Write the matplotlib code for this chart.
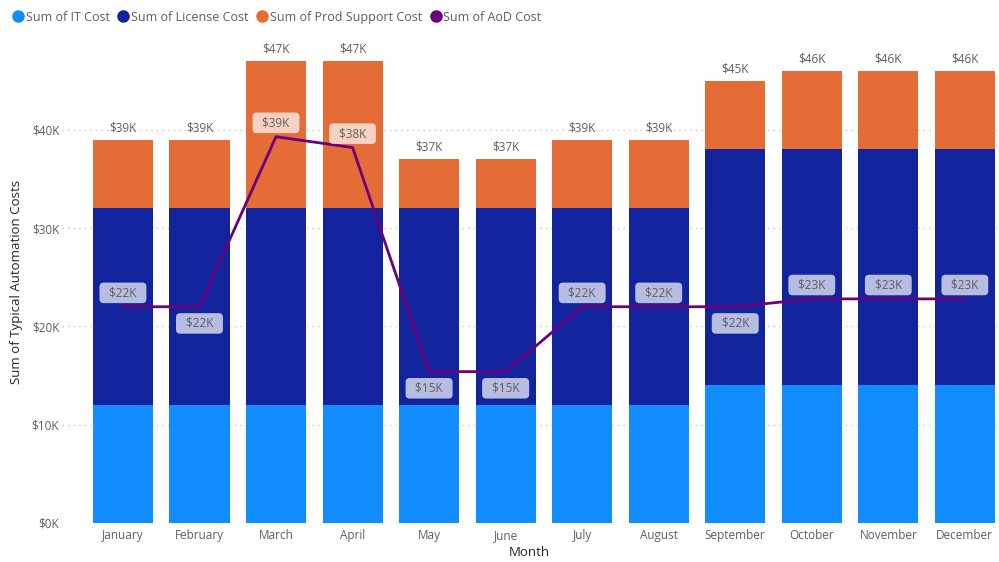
import matplotlib
matplotlib.use("Agg")
import matplotlib.pyplot as plt
from matplotlib.lines import Line2D
import numpy as np

months = ["January", "February", "March", "April", "May", "June", "July",
          "August", "September", "October", "November", "December"]
it_cost = [12, 12, 12, 12, 12, 12, 12, 12, 14, 14, 14, 14]
license_cost = [20, 20, 20, 20, 20, 20, 20, 20, 24, 24, 24, 24]
prod_support = [7, 7, 15, 15, 5, 5, 7, 7, 7, 8, 8, 8]
aod_cost = [22, 22, 39.3, 38.2, 15.4, 15.4, 22, 22, 22, 22.8, 22.8, 22.8]
aod_labels = ["$22K", "$22K", "$39K", "$38K", "$15K", "$15K", "$22K", "$22K",
              "$22K", "$23K", "$23K", "$23K"]
label_side = [1, -1, 1, 1, -1, -1, 1, 1, -1, 1, 1, 1]

C_IT = "#118DFF"
C_LIC = "#12239E"
C_PS = "#E66C37"
C_AOD = "#6B007B"
GREY = "#605E5C"

plt.rcParams['font.family'] = ['Open Sans', 'DejaVu Sans']

fig = plt.figure(figsize=(9.99, 5.62), dpi=100)
ax = fig.add_axes([0.062, 0.0694, 0.936, 0.857])

x = np.arange(len(months))
it = np.array(it_cost) * 1000
lic = np.array(license_cost) * 1000
ps = np.array(prod_support) * 1000
aod = np.array(aod_cost) * 1000
w = 0.785

ax.bar(x, it, w, color=C_IT, zorder=2)
ax.bar(x, lic, w, bottom=it, color=C_LIC, zorder=2)
ax.bar(x, ps, w, bottom=it + lic, color=C_PS, zorder=2)
tot = it + lic + ps
for xi, t in zip(x, tot):
    ax.annotate(f"${t/1000:.0f}K", (xi, t), xytext=(0, 4), textcoords="offset points",
                ha="center", va="bottom", fontsize=8.5, color=GREY, zorder=4)

ax.plot(x, aod, color=C_AOD, lw=2.0, zorder=5)
for xi, v, lab, s in zip(x, aod, aod_labels, label_side):
    off = 10 if s > 0 else -12
    ax.annotate("  " + lab + "  ", (xi, v), xytext=(0, off), textcoords="offset points",
                ha="center", va="center", fontsize=8.5, color=GREY, zorder=6,
                bbox=dict(boxstyle="round,pad=0.32,rounding_size=0.35", fc="white",
                          alpha=0.7, ec="none"))

ax.set_xlim(-0.797, 11.42)
ax.set_ylim(0, 49000)
ax.set_yticks([0, 10000, 20000, 30000, 40000])
ax.set_yticklabels(["$0K", "$10K", "$20K", "$30K", "$40K"])
ax.set_xticks(x)
ax.set_xticklabels(months)
ax.tick_params(axis="both", length=0, labelsize=8.5, labelcolor=GREY)
ax.tick_params(axis="y", pad=2)
ax.tick_params(axis="x", pad=11.5)
for lbl in ax.get_xticklabels():
    lbl.set_va("baseline")
ax.yaxis.grid(True, linestyle=(0, (1, 3)), color="#C8C6C4", lw=1, zorder=0)
for sp in ax.spines.values():
    sp.set_visible(False)
ax.set_xlabel("Month", fontsize=9.5, color="#252423", va="center")
ax.xaxis.set_label_coords(0.5, -0.062)
ax.set_ylabel("Sum of Typical Automation Costs", fontsize=9.5, color="#252423", labelpad=6)

handles = [Line2D([], [], marker="o", ls="", color=c, markersize=8)
           for c in [C_IT, C_LIC, C_PS, C_AOD]]
names = ["Sum of IT Cost", "Sum of License Cost", "Sum of Prod Support Cost", "Sum of AoD Cost"]
leg = fig.legend(handles, names, loc="upper left", bbox_to_anchor=(0.0, 1.0), ncol=4,
                 frameon=False, fontsize=9, handletextpad=0.0, columnspacing=0.5,
                 handlelength=1.2, borderaxespad=0.45)
for t in leg.get_texts():
    t.set_color(GREY)

fig.savefig("out.png", dpi=100)
